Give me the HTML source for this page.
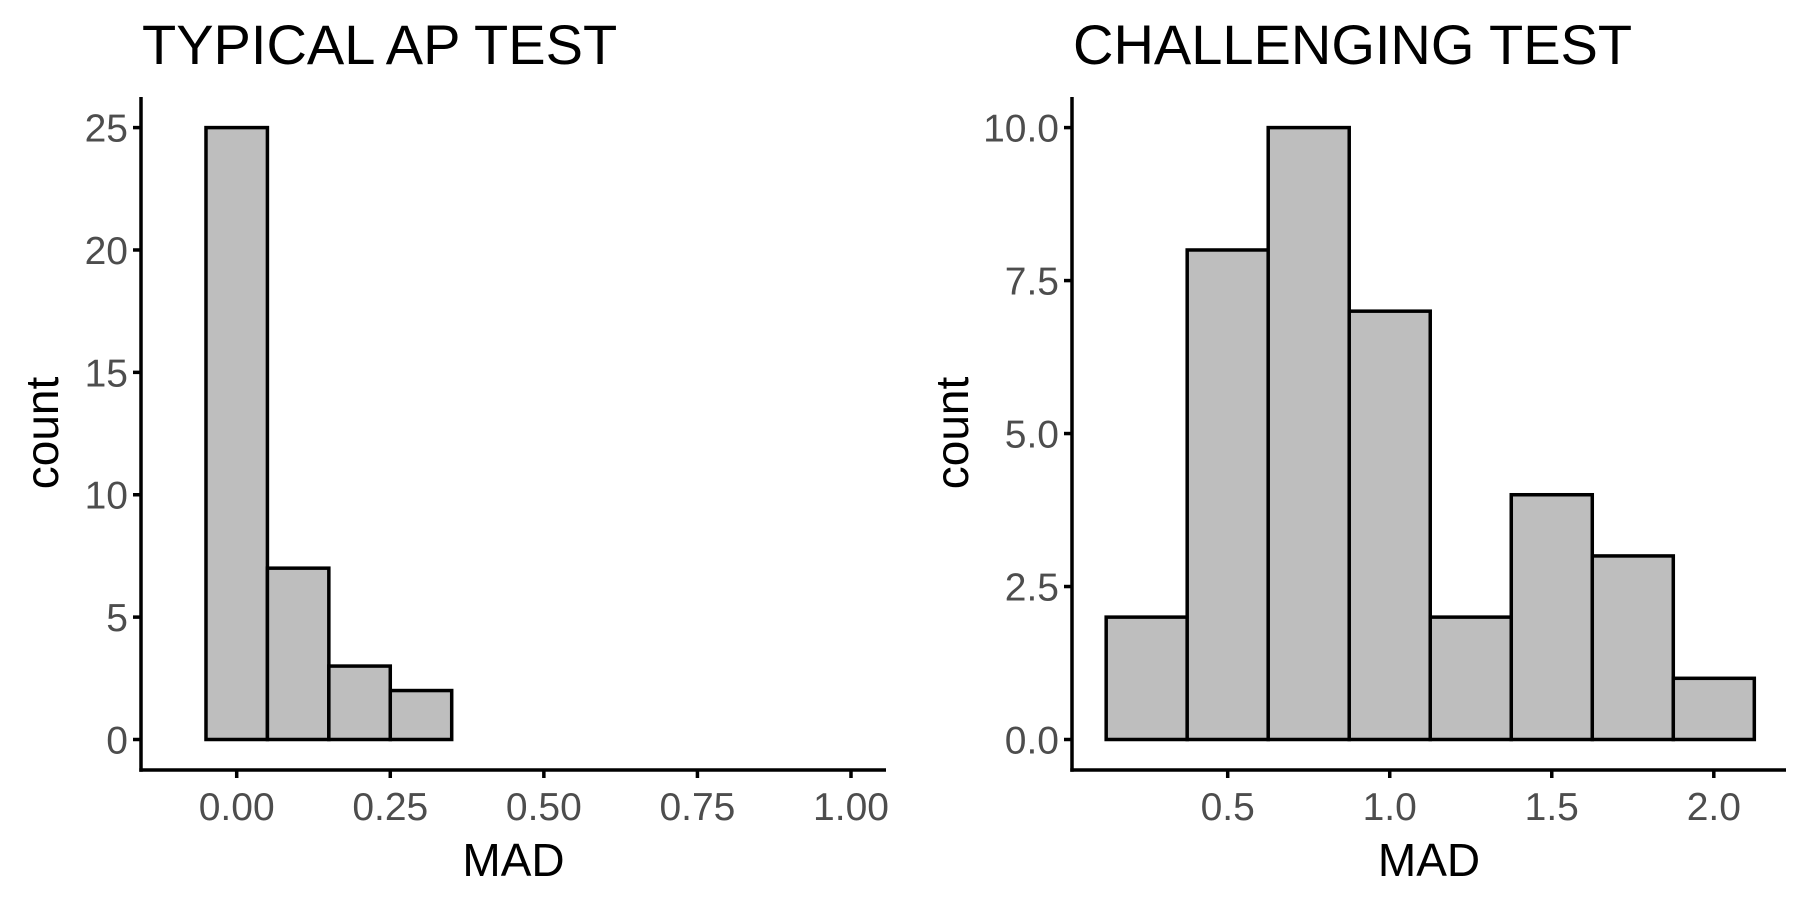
<!DOCTYPE html>
<html><head><meta charset="utf-8"><style>
body{margin:0;background:#fff;}
svg{display:block;font-family:"Liberation Sans",Arial,sans-serif;}
</style></head><body>
<svg id="chart" width="1800" height="900" viewBox="0 0 1800 900"></svg>
<script>
const leftBinCenters=[0,0.1,0.2,0.3,0.4,0.5,0.6,0.7,0.8,0.9];
const leftCounts=[25,7,3,2,0,0,0,0,0,0];
const leftXTicks=[0,0.25,0.5,0.75,1.0];
const leftXTickLabels=["0.00","0.25","0.50","0.75","1.00"];
const leftYTicks=[0,5,10,15,20,25];
const leftYTickLabels=["0","5","10","15","20","25"];
const rightBinCenters=[0.25,0.5,0.75,1.0,1.25,1.5,1.75,2.0];
const rightCounts=[2,8,10,7,2,4,3,1];
const rightXTicks=[0.5,1.0,1.5,2.0];
const rightXTickLabels=["0.5","1.0","1.5","2.0"];
const rightYTicks=[0,2.5,5,7.5,10];
const rightYTickLabels=["0.0","2.5","5.0","7.5","10.0"];

const svg=document.getElementById('chart');
const NS='http://www.w3.org/2000/svg';
function mk(tag,attrs,parent){const e=document.createElementNS(NS,tag);for(const k in attrs)e.setAttribute(k,attrs[k]);(parent||svg).appendChild(e);return e;}

function panel(cfg){
  const g=mk('g',{});
  
  
  const x=v=>cfg.x0px+(v-cfg.x0v)*cfg.xScale;
  const y=v=>739.5-(v/cfg.ymax)*(739.5-127.6);
  const half=cfg.binWidth/2;
  cfg.centers.forEach((c,i)=>{
    const r=mk('rect',{x:x(c-half),y:y(cfg.counts[i]),width:x(c+half)-x(c-half),height:y(0)-y(cfg.counts[i]),fill:'#bebebe',stroke:'#000','stroke-width':3.5},g);
    
    
  });
  const ya=mk('line',{x1:cfg.axisX,y1:97,x2:cfg.axisX,y2:771.7,stroke:'#000','stroke-width':3.5},g);
  
  
  const xa=mk('line',{x1:cfg.axisX-1.7,y1:770,x2:cfg.axisEnd,y2:770,stroke:'#000','stroke-width':3.5},g);
  
  
  cfg.yTicks.forEach((t,i)=>{
    mk('line',{x1:cfg.axisX-8,y1:y(t),x2:cfg.axisX,y2:y(t),stroke:'#000','stroke-width':3.5},g);
    const tx=mk('text',{x:cfg.axisX-13,y:y(t)+14,'text-anchor':'end','font-size':39,fill:'#4d4d4d'},g);
    tx.textContent=cfg.yLabels[i];
    
    
  });
  cfg.xTicks.forEach((t,i)=>{
    mk('line',{x1:x(t),y1:770,x2:x(t),y2:778,stroke:'#000','stroke-width':3.5},g);
    const tx=mk('text',{x:x(t),y:820,'text-anchor':'middle','font-size':39,fill:'#4d4d4d'},g);
    tx.textContent=cfg.xLabels[i];
    
    
  });
  const xt=mk('text',{x:(cfg.axisX+cfg.axisEnd)/2,y:876,'text-anchor':'middle','font-size':46,fill:'#000'},g);
  xt.textContent='MAD';
  
  
  const yt=mk('text',{x:0,y:0,'text-anchor':'middle','font-size':46,fill:'#000',transform:`translate(${cfg.ytitleX},433) rotate(-90)`},g);
  yt.textContent='count';
  
  
  const tt=mk('text',{x:cfg.axisX+1,y:64,'font-size':56,fill:'#000'},g);
  tt.textContent=cfg.title;
  
  
}
panel({name:'typical-ap-test-panel',title:'TYPICAL AP TEST',centers:leftBinCenters,counts:leftCounts,binWidth:0.1,
  x0v:0,x0px:236.7,xScale:(851-236.7),ymax:25,axisX:141,axisEnd:886,ytitleX:58,
  xTicks:leftXTicks,xLabels:leftXTickLabels,yTicks:leftYTicks,yLabels:leftYTickLabels});
panel({name:'challenging-test-panel',title:'CHALLENGING TEST',centers:rightBinCenters,counts:rightCounts,binWidth:0.25,
  x0v:0.5,x0px:1227.7,xScale:(1713.8-1227.7)/1.5,ymax:10,axisX:1072,axisEnd:1786,ytitleX:968,
  xTicks:rightXTicks,xLabels:rightXTickLabels,yTicks:rightYTicks,yLabels:rightYTickLabels});
</script>
</body></html>
